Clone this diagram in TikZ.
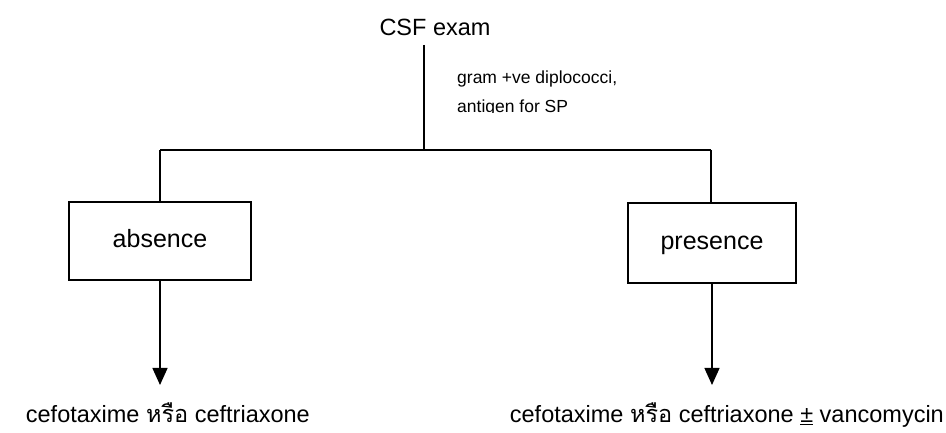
\documentclass[tikz,border=0pt]{standalone}
\usepackage{fontspec}
\setmainfont{Liberation Sans}
\newfontfamily\thaifont[Script=Thai]{Loma}
\usetikzlibrary{arrows.meta}
\begin{document}
\begin{tikzpicture}[x=1pt,y=1pt,
  line/.style={line width=1.4pt},
  box/.style={draw,line width=1.4pt,minimum width=182pt,minimum height=78pt,inner sep=0pt,text height=18pt,text depth=5pt,font=\fontsize{25}{30}\selectfont},
  big/.style={inner sep=0pt,font=\fontsize{23.5}{28}\selectfont},
  small/.style={inner sep=0pt,font=\fontsize{17.5}{21}\selectfont},
  arr/.style={line width=1.4pt,-{Triangle[length=17pt,width=15pt]}}]
\useasboundingbox (0,0) rectangle (946,433);
\node[inner sep=0pt,font=\fontsize{23.5}{28}\selectfont,anchor=base] (csf) at (435,397) {CSF exam};
\coordinate (top) at (424,388);
\coordinate (mid) at (424,283);
\coordinate (jl) at (160,283);
\coordinate (jr) at (711,283);
\node[box] (abs) at (160,192) {absence};
\node[box,minimum width=168pt,minimum height=80pt] (pres) at (712,190) {presence};
\node[small,anchor=base west] (g1) at (457,349) {gram +ve diplococci,};
\begin{scope}
\clip (440,320.3) rectangle (700,345);
\node[small,anchor=base west] (g2) at (457,320) {antigen for SP};
\end{scope}
\draw[line] (top) -- (mid);
\draw[line] (jl) -- (jr);
\draw[line] (jl) -- (abs.north);
\draw[line] (jr) -- (jr |- pres.north);
\node[big,anchor=base east] (t1) at (310,10) {cefotaxime {\thaifont หรือ} ceftriaxone};
\node[big,anchor=base east] (t2) at (944,10) {cefotaxime {\thaifont หรือ} ceftriaxone \underline{±} vancomycin};
\draw[arr] (abs.south) -- (160,48);
\draw[arr] (pres.south) -- (712,48);
\end{tikzpicture}
\end{document}
